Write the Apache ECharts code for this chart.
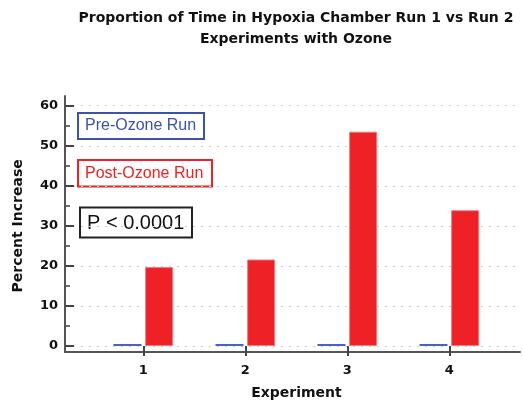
<!DOCTYPE html>
<html lang="en">
<head>
    <meta charset="UTF-8">
    <title>Hypoxia Chamber</title>
    <style>
        html, body { margin: 0; padding: 0; background: #fff; }
        #main { width: 523px; height: 405px; }
    </style>
</head>
<body>
    <div id="main"></div>
    <script src="https://cdn.jsdelivr.net/npm/echarts@6/dist/echarts.min.js"></script>
    <script>
    var experiments = [1, 2, 3, 4];
    var preOzone = [0.5, 0.5, 0.5, 0.5];
    var postOzone = [19.7, 21.6, 53.5, 33.9];

    var myChart = echarts.init(document.getElementById('main'));

    function pairs(vals) {
        return experiments.map(function (e, i) { return [e, vals[i]]; });
    }

    var font = 'Liberation Sans, Arial, sans-serif';
    var boldFont = 'DejaVu Sans, sans-serif';

    var option = {
        animation: false,
        title: {
            text: 'Proportion of Time in Hypoxia Chamber Run 1 vs Run 2\nExperiments with Ozone',
            left: 291,
            top: 3,
            textAlign: 'center',
            textStyle: {
                fontFamily: boldFont,
                fontSize: 14,
                fontWeight: 'bold',
                color: '#111',
                lineHeight: 21
            }
        },
        grid: [
            { left: 65, right: 3, top: 105.7, bottom: 59 },
            { left: 65, right: 3, top: 96, bottom: 49 }
        ],
        xAxis: [{
            type: 'value',
            gridIndex: 0,
            min: 0.2324,
            max: 4.693,
            axisLine: { show: false },
            splitLine: { show: false },
            axisTick: {
                show: true,
                length: 10,
                customValues: experiments,
                lineStyle: { color: '#444', width: 2 }
            },
            axisLabel: {
                customValues: experiments,
                margin: 18,
                fontFamily: boldFont,
                fontSize: 13,
                fontWeight: 'bold',
                color: '#111'
            }
        }, {
            type: 'value',
            gridIndex: 1,
            min: 0,
            max: 1,
            name: 'Experiment',
            nameLocation: 'middle',
            nameGap: 34,
            nameTextStyle: {
                fontFamily: boldFont,
                fontSize: 14,
                fontWeight: 'bold',
                color: '#111',
                padding: [0, 0, 0, 8]
            },
            axisLine: { show: true, onZero: false, lineStyle: { color: '#555', width: 2 } },
            axisTick: { show: false },
            axisLabel: { show: false },
            splitLine: { show: false }
        }],
        yAxis: [{
            type: 'value',
            gridIndex: 0,
            min: 0,
            max: 60,
            interval: 10,
            name: 'Percent Increase',
            nameLocation: 'middle',
            nameGap: 40,
            nameTextStyle: {
                fontFamily: boldFont,
                fontSize: 14,
                fontWeight: 'bold',
                color: '#111'
            },
            axisLine: { show: false },
            axisTick: {
                show: true,
                inside: true,
                length: 9,
                lineStyle: { color: '#444', width: 2 }
            },
            minorTick: {
                show: true,
                splitNumber: 2,
                length: 5,
                lineStyle: { color: '#444', width: 1.5 }
            },
            axisLabel: {
                margin: 7,
                fontFamily: boldFont,
                fontSize: 13,
                fontWeight: 'bold',
                color: '#111'
            },
            splitLine: {
                show: true,
                lineStyle: { color: '#cccccc', width: 1, type: [2, 6] }
            }
        }, {
            type: 'value',
            gridIndex: 1,
            min: 0,
            max: 1,
            axisLine: { show: true, onZero: false, lineStyle: { color: '#555', width: 2 } },
            axisTick: { show: false },
            axisLabel: { show: false },
            splitLine: { show: false }
        }],
        series: [{
            name: 'Pre-Ozone Run',
            type: 'bar',
            xAxisIndex: 0,
            yAxisIndex: 0,
            barWidth: 28,
            barGap: '13%',
            data: pairs(preOzone),
            itemStyle: { color: '#4a62c2' }
        }, {
            name: 'Post-Ozone Run',
            type: 'bar',
            xAxisIndex: 0,
            yAxisIndex: 0,
            barWidth: 28,
            barGap: '13%',
            data: pairs(postOzone),
            itemStyle: { color: '#ee2126', borderColor: '#f27a7a', borderWidth: 1 }
        }],
        graphic: [
            { type: 'rect', shape: { x: 78, y: 113, width: 126, height: 26 },
              style: { fill: '#fff', stroke: '#3d52a8', lineWidth: 2 } },
            { type: 'text', x: 85, y: 126,
              style: { text: 'Pre-Ozone Run', fill: '#3d52a8', font: '16px ' + font, verticalAlign: 'middle' } },
            { type: 'rect', shape: { x: 78, y: 160, width: 134, height: 26.5 },
              style: { fill: '#fff', stroke: '#ee2126', lineWidth: 2 } },
            { type: 'text', x: 85, y: 173.5,
              style: { text: 'Post-Ozone Run', fill: '#ee2126', font: '16px ' + font, verticalAlign: 'middle' } },
            { type: 'rect', shape: { x: 80, y: 207.5, width: 112, height: 30 },
              style: { fill: '#fff', stroke: '#222', lineWidth: 2 } },
            { type: 'text', x: 87, y: 223,
              style: { text: 'P < 0.0001', fill: '#111', font: '20px ' + font, verticalAlign: 'middle' } }
        ]
    };

    myChart.setOption(option);
    </script>
</body>
</html>
